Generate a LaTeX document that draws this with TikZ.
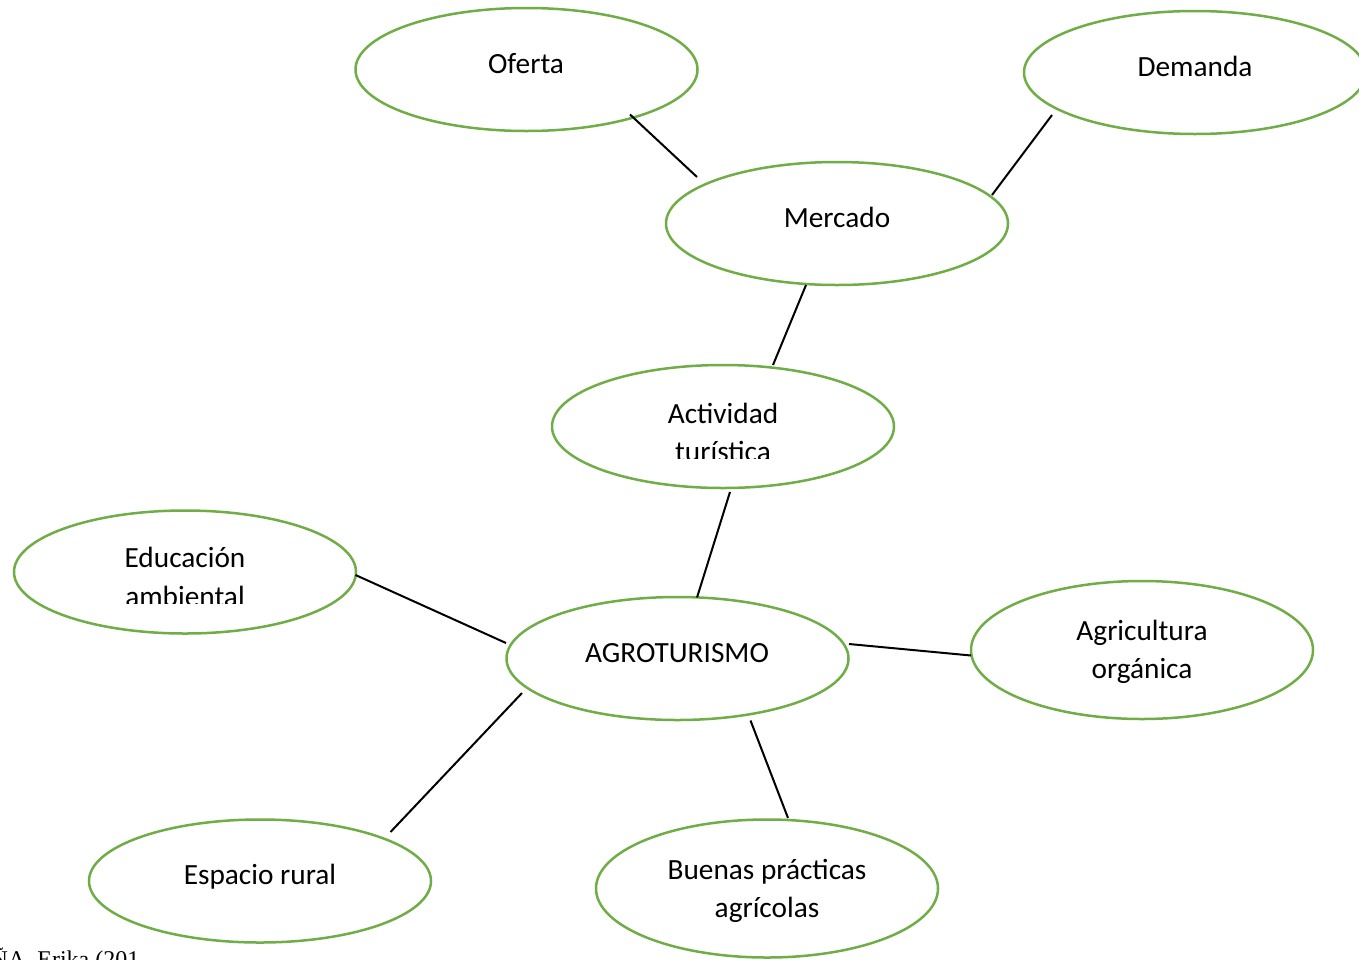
\documentclass[tikz,border=0pt]{standalone}
\usepackage{fontspec}
\setmainfont{Carlito}
\newfontfamily\footfont{Liberation Serif}
\usetikzlibrary{shapes.geometric,calc}
\definecolor{ovalgreen}{HTML}{70AD47}
\begin{document}
\begin{tikzpicture}[x=1pt,y=-1pt,
  oval/.style={ellipse,draw=ovalgreen,line width=2.5pt,minimum width=342pt,minimum height=123pt,inner sep=0pt},
  talloval/.style={oval,minimum height=138pt},
  txt/.style={anchor=base,font=\fontsize{29.3}{38}\selectfont,inner sep=0pt,text=black},
  link/.style={line width=2pt,black}]
\useasboundingbox (0,0) rectangle (1359,959);
\clip (0,0) rectangle (1359,959);
\fill[white] (0,0) rectangle (1359,959);

% ellipses
\node[oval] (oferta) at (526.5,69.5) {};
\node[oval] (demanda) at (1195,72.5) {};
\node[oval] (mercado) at (837,223.5) {};
\node[oval] (actividad) at (723,426.5) {};
\node[oval] (educacion) at (185,572) {};
\node[oval] (agro) at (677.5,658.5) {};
\node[talloval] (agricultura) at (1142,650) {};
\node[oval] (espacio) at (260,881) {};
\node[talloval] (buenas) at (767,888.5) {};

% texts
\node[txt] (t-oferta) at (526,73.5) {Oferta};
\node[txt] (t-demanda) at (1195,76) {Demanda};
\node[txt] (t-mercado) at (837,227) {Mercado};
\node[txt] (t-actividad1) at (723,423) {Actividad};
\begin{scope}
  \clip (600,430) rectangle (850,458.5);
  \node[txt] (t-actividad2) at (723,461) {turística};
\end{scope}
\node[txt] (t-educacion1) at (185,567) {Educación};
\begin{scope}
  \clip (60,575) rectangle (310,603.5);
  \node[txt] (t-educacion2) at (185,606) {ambiental};
\end{scope}
\node[txt] (t-agro) at (677,662) {AGROTURISMO};
\node[txt] (t-agricultura1) at (1142,640) {Agricultura};
\node[txt] (t-agricultura2) at (1142,678) {orgánica};
\node[txt] (t-espacio) at (260,884) {Espacio rural};
\node[txt] (t-buenas1) at (767,879) {Buenas prácticas};
\node[txt] (t-buenas2) at (767,917) {agrícolas};

% footer (cut off by the page edge)
\node[anchor=base west,inner sep=0pt,font=\footfont\fontsize{24}{28}\selectfont] (footer) at (-9.5,967) {ÑA, Erika (201};

% connectors
\draw[link] ($(oferta.center)+(103.5,45)$) -- ($(mercado.center)+(-140,-46.5)$);
\draw[link] ($(demanda.center)+(-143,42.5)$) -- ($(mercado.center)+(155,-28.5)$);
\draw[link] ($(mercado.center)+(-31,61.5)$) -- ($(actividad.center)+(50,-61.5)$);
\draw[link] ($(actividad.center)+(7,65.5)$) -- ($(agro.center)+(19.5,-61)$);
\draw[link] ($(educacion.center)+(170.5,3)$) -- ($(agro.center)+(-171.5,-15.5)$);
\draw[link] ($(agro.center)+(171.5,-14.5)$) -- ($(agricultura.center)+(-171,5.5)$);
\draw[link] ($(agro.center)+(-155.5,34.5)$) -- ($(espacio.center)+(130.5,-49)$);
\draw[link] ($(agro.center)+(73,62)$) -- ($(buenas.center)+(21,-70.5)$);
\end{tikzpicture}
\end{document}
